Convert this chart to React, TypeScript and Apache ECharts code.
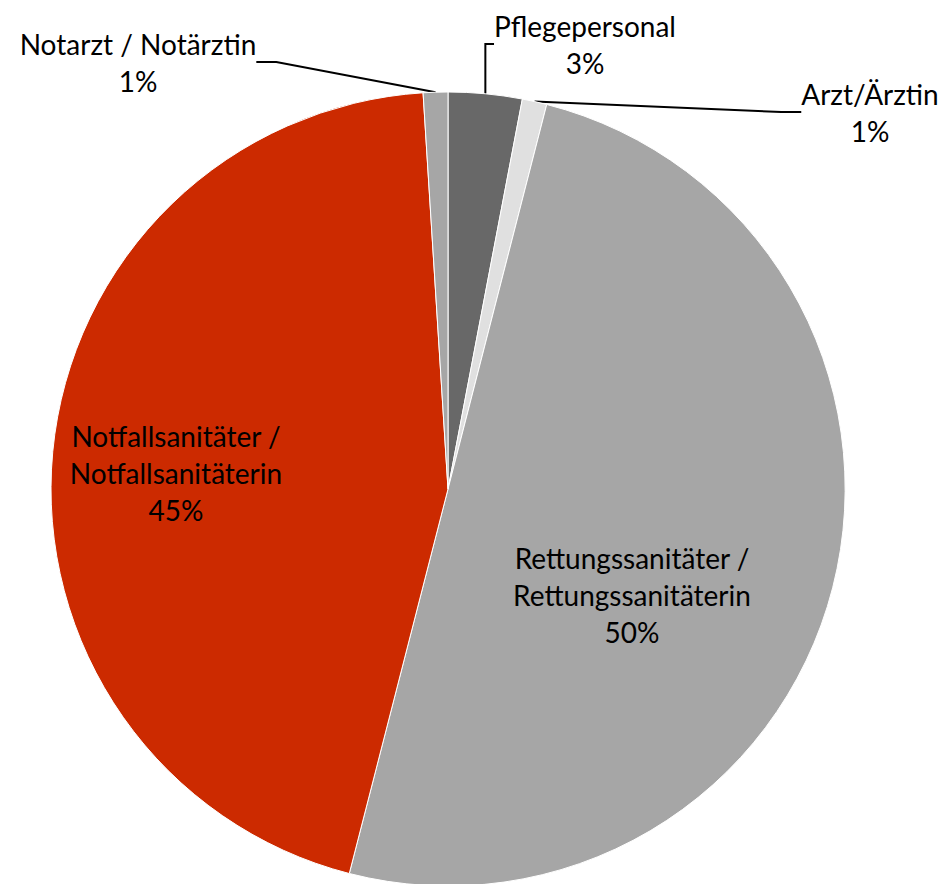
import React, { useEffect, useRef } from "react";
import * as echarts from "echarts";

const categories = [
  "Pflegepersonal",
  "Arzt/Ärztin",
  "Rettungssanitäter / Rettungssanitäterin",
  "Notfallsanitäter / Notfallsanitäterin",
  "Notarzt / Notärztin",
];
const labelTexts = [
  "Pflegepersonal",
  "Arzt/Ärztin",
  "Rettungssanitäter /\nRettungssanitäterin",
  "Notfallsanitäter /\nNotfallsanitäterin",
  "Notarzt / Notärztin",
];
const values = [3, 1, 50, 45, 1];
const colors = ["#686868", "#e0e0e0", "#a6a6a6", "#cc2a00", "#a6a6a6"];
const inside = [false, false, true, true, false];
// label block centres (layout)
const labelPos = [
  [585, 44],
  [870, 112],
  [632, 595],
  [176, 473],
  [138, 62],
];

export default function App() {
  const ref = useRef<HTMLDivElement>(null);
  useEffect(() => {
    if (!ref.current) return;
    const chart = echarts.init(ref.current, null, { renderer: "svg" });
    chart.setOption({
      animation: false,
      backgroundColor: "#ffffff",
      series: [
        {
          type: "pie",
          center: [448, 489],
          radius: 397,
          startAngle: 90,
          clockwise: true,
          avoidLabelOverlap: false,
          itemStyle: { borderColor: "#ffffff", borderWidth: 1 },
          label: {
            color: "#000000",
            fontFamily: "Lato",
            fontSize: 28,
            lineHeight: 37,
            align: "center",
            formatter: (p: any) =>
              labelTexts[p.dataIndex] + "\n" + Math.round(p.percent) + "%",
          },
          labelLine: {
            lineStyle: { color: "#000000", width: 2 },
            length: 20,
            length2: 20,
          },
          labelLayout: (p: any) => {
            const pos = labelPos[p.dataIndex];
            return {
              x: pos[0],
              y: pos[1],
              align: "center",
              verticalAlign: "middle",
            };
          },
          data: categories.map((c, i) => ({
            name: c,
            value: values[i],
            itemStyle: { color: colors[i] },
            label: { position: inside[i] ? "inside" : "outside" },
            labelLine: { show: !inside[i] },
          })),
        },
      ],
    });
    return () => chart.dispose();
  }, []);
  return (
    <div
      ref={ref}
      style={{ position: "fixed", left: 0, top: 0, width: 948, height: 884 }}
    />
  );
}
